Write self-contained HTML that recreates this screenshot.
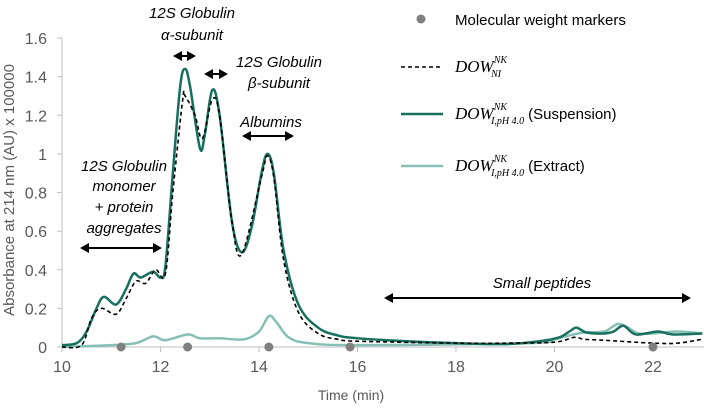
<!DOCTYPE html>
<html><head><meta charset="utf-8"><style>
body{margin:0;background:#fff;font-family:"Liberation Sans","DejaVu Sans",sans-serif}
svg text{font-family:"Liberation Sans","DejaVu Sans",sans-serif}
</style></head><body>
<svg id="c" width="704" height="406"></svg>
<script>
const xTicks=[10,12,14,16,18,20,22];
const yTicks=[0,0.2,0.4,0.6,0.8,1,1.2,1.4,1.6];
const yTickLabels=["0","0.2","0.4","0.6","0.8","1","1.2","1.4","1.6"];
const suspT=[10,10.3,10.5,10.7,10.85,11.1,11.3,11.45,11.6,11.85,12.0,12.1,12.25,12.4,12.5,12.6,12.8,12.9,13.05,13.2,13.45,13.65,13.85,14.05,14.17,14.3,14.5,14.8,15.2,15.6,16,17,18,19,19.7,20.1,20.3,20.45,20.65,21.0,21.2,21.4,21.65,22.1,22.4,23];
const suspV=[0.01,0.02,0.08,0.2,0.26,0.22,0.3,0.38,0.36,0.39,0.36,0.42,0.9,1.35,1.44,1.35,1.03,1.1,1.33,1.2,0.65,0.49,0.62,0.9,1.0,0.9,0.5,0.22,0.1,0.06,0.045,0.03,0.02,0.015,0.03,0.05,0.08,0.1,0.075,0.07,0.08,0.11,0.065,0.08,0.065,0.07];
const niT=[10,10.4,10.6,10.8,11.1,11.3,11.5,11.7,11.9,12.1,12.25,12.45,12.5,12.7,12.85,13.05,13.2,13.45,13.65,14.05,14.17,14.3,14.5,14.8,15.2,15.6,16,18,19,20,20.4,20.6,21,22,22.5,23];
const niV=[0,0.01,0.15,0.2,0.17,0.25,0.34,0.33,0.4,0.38,0.8,1.28,1.3,1.2,1.08,1.28,1.2,0.65,0.48,0.88,0.99,0.88,0.45,0.18,0.07,0.04,0.03,0.02,0.02,0.025,0.05,0.04,0.035,0.02,0.02,0.04];
const extT=[10,11,11.5,11.85,12.1,12.55,12.8,13.2,13.7,14.0,14.2,14.35,14.6,15,16,19.5,20,20.3,20.6,21,21.15,21.3,21.5,21.7,22,22.5,23];
const extV=[0,0.01,0.02,0.055,0.035,0.065,0.045,0.045,0.04,0.08,0.16,0.13,0.05,0.02,0.01,0.02,0.04,0.06,0.075,0.08,0.1,0.12,0.1,0.07,0.07,0.08,0.07];
const markerT=[11.2,12.55,14.2,15.85,22.0];

const NS="http://www.w3.org/2000/svg",svg=document.getElementById('c');
const X0=62,Y0=347;
const xs=t=>X0+(t-10)*49.25;
const ys=v=>Y0-v*193.1;
function el(tag,a,p){const e=document.createElementNS(NS,tag);for(const k in a)e.setAttribute(k,a[k]);(p||svg).appendChild(e);return e;}
function txt(x,y,s,a){const e=el('text',Object.assign({x:x,y:y},a));e.textContent=s;return e;}
let ax=el('line',{x1:X0,y1:Y0,x2:704,y2:Y0,stroke:'#bfbfbf','stroke-width':1});

let ay=el('line',{x1:X0,y1:38,x2:X0,y2:Y0,stroke:'#bfbfbf','stroke-width':1});

yTicks.forEach((v,i)=>{el('line',{x1:X0-5,y1:ys(v),x2:X0,y2:ys(v),stroke:'#bfbfbf'});
 const t=txt(47,ys(v)+6,yTickLabels[i],{'text-anchor':'end','font-size':16,fill:'#595959'});
 });
xTicks.forEach(v=>{el('line',{x1:xs(v),y1:Y0,x2:xs(v),y2:Y0+5,stroke:'#bfbfbf'});
 const t=txt(xs(v),Y0+25,String(v),{'text-anchor':'middle','font-size':16,fill:'#595959'});
 });
let xt=txt(351,400,'Time (min)',{'text-anchor':'middle','font-size':14,fill:'#595959'});

let yt=txt(0,0,'Absorbance at 214 nm (AU)        x 100000',{'font-size':15,fill:'#595959','text-anchor':'middle',transform:'translate(14,190) rotate(-90)'});

function path(T,V){const p=T.map((t,i)=>[xs(t),ys(V[i])]);let d='M'+p[0][0]+','+p[0][1];
 for(let i=0;i<p.length-1;i++){const a=p[Math.max(0,i-1)],b=p[i],c=p[i+1],e=p[Math.min(p.length-1,i+2)];
 d+=' C'+(b[0]+(c[0]-a[0])/6)+','+(b[1]+(c[1]-a[1])/6)+' '+(c[0]-(e[0]-b[0])/6)+','+(c[1]-(e[1]-b[1])/6)+' '+c[0]+','+c[1];}return d;}
let pe=el('path',{d:path(extT,extV),fill:'none',stroke:'#86c0b5','stroke-width':2.5});

let ps=el('path',{d:path(suspT,suspV),fill:'none',stroke:'#17705f','stroke-width':2.5});

let pn=el('path',{d:path(niT,niV),fill:'none',stroke:'#000','stroke-width':1.6,'stroke-dasharray':'4,3'});

markerT.forEach(t=>{const c=el('circle',{cx:xs(t),cy:Y0,r:4.5,fill:'#808080'});
 });
const lg=el('g',{});
el('circle',{cx:421,cy:19,r:4.5,fill:'#808080'},lg);
let t1=el('text',{x:455,y:25,'font-size':15},lg);t1.textContent='Molecular weight markers';
el('line',{x1:401,y1:67,x2:443,y2:67,stroke:'#000','stroke-width':1.6,'stroke-dasharray':'4,3'},lg);
el('line',{x1:401,y1:114,x2:443,y2:114,stroke:'#17705f','stroke-width':2.5},lg);
el('line',{x1:401,y1:166,x2:443,y2:166,stroke:'#86c0b5','stroke-width':2.5},lg);
function leg(y,sub,extra){const t=el('text',{x:455,y:y,'font-size':15},lg);
 const a=el('tspan',{'font-family':'Liberation Serif','font-style':'italic','font-size':17},t);a.textContent='DOW';
 const s=el('tspan',{'font-family':'Liberation Serif','font-style':'italic','font-size':10,dy:-9},t);s.textContent='NK';
 const b=el('tspan',{'font-family':'Liberation Serif','font-style':'italic','font-size':10,dx:-16,dy:14},t);b.textContent=sub;
 if(extra){const e=el('tspan',{dx:4,dy:-5},t);e.textContent=extra;}}
leg(72,'NI',null);leg(119,'I,pH 4.0','(Suspension)');leg(171,'I,pH 4.0','(Extract)');
function arrow(x1,x2,y,name){const g=el('g',{});
 el('line',{x1:x1+6,y1:y,x2:x2-6,y2:y,stroke:'#000','stroke-width':2},g);
 el('polygon',{points:`${x1},${y} ${x1+9},${y-5} ${x1+9},${y+5}`,fill:'#000'},g);
 el('polygon',{points:`${x2},${y} ${x2-9},${y-5} ${x2-9},${y+5}`,fill:'#000'},g);}
function note(x,y,s){const t=txt(x,y,s,{'text-anchor':'middle','font-size':15,'font-style':'italic',fill:'#000'});
 }
arrow(80,162,248,'monomer-range-arrow');arrow(173,196,56,'alpha-range-arrow');arrow(204,228,74,'beta-range-arrow');
arrow(242,294,136,'albumins-range-arrow');arrow(384,691,298,'small-peptides-arrow');
note(124,171,'12S Globulin');note(124,191,'monomer');note(124,212,'+ protein');note(124,233,'aggregates');
note(192,18,'12S Globulin');note(192,40,'α-subunit');note(279,67,'12S Globulin');note(279,88,'β-subunit');
note(271,127,'Albumins');note(542,288,'Small peptides');
</script>
</body></html>
